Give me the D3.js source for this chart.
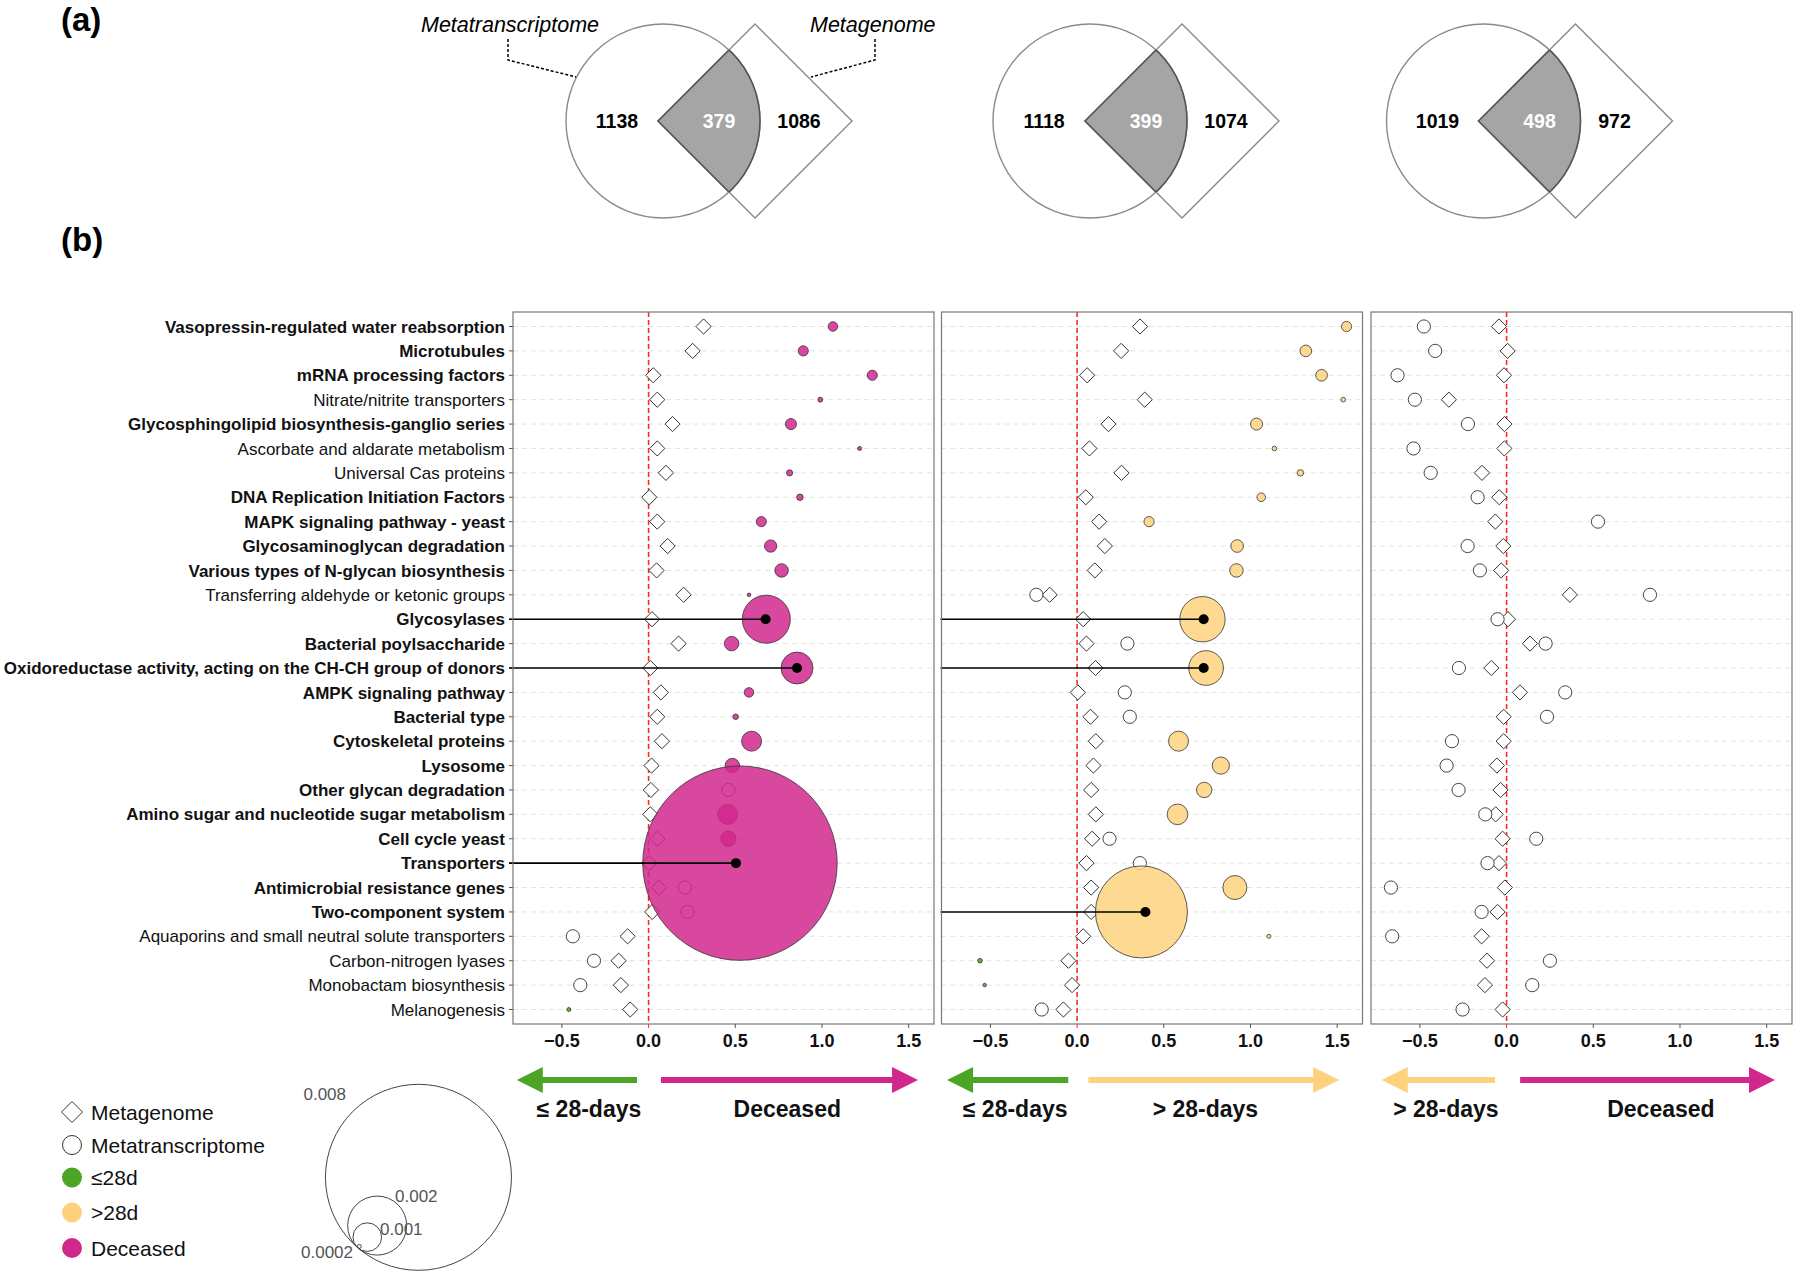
<!DOCTYPE html>
<html><head><meta charset="utf-8">
<script src="https://cdn.jsdelivr.net/npm/d3@7"></script>
<style>body{margin:0;background:#fff} svg{display:block;font-family:"Liberation Sans",Arial,Helvetica,sans-serif}</style>
</head><body>
<svg id="chart" width="1800" height="1277"></svg>
<script>
// ---------------- DATA ----------------
const pathways = [
 "Vasopressin-regulated water reabsorption","Microtubules","mRNA processing factors","Nitrate/nitrite transporters",
 "Glycosphingolipid biosynthesis-ganglio series","Ascorbate and aldarate metabolism","Universal Cas proteins",
 "DNA Replication Initiation Factors","MAPK signaling pathway - yeast","Glycosaminoglycan degradation",
 "Various types of N-glycan biosynthesis","Transferring aldehyde or ketonic groups","Glycosylases",
 "Bacterial poylsaccharide","Oxidoreductase activity, acting on the CH-CH group of donors","AMPK signaling pathway",
 "Bacterial type","Cytoskeletal proteins","Lysosome","Other glycan degradation","Amino sugar and nucleotide sugar metabolism",
 "Cell cycle yeast","Transporters","Antimicrobial resistance genes","Two-component system",
 "Aquaporins and small neutral solute transporters","Carbon-nitrogen lyases","Monobactam biosynthesis","Melanogenesis"];
const boldRows = [1,1,1,0,1,0,0,1,1,1,1,0,1,1,1,1,1,1,1,1,1,1,1,1,1,0,0,0,0];

// Venn counts
const vennMetatranscriptome = [1138, 1118, 1019];
const vennShared = [379, 399, 498];
const vennMetagenome = [1086, 1074, 972];
const vennSetLabels = ["Metatranscriptome", "Metagenome"];

// Panel 1: ≤28-days vs Deceased
const mg1 = [0.317,0.254,0.027,0.05,0.138,0.05,0.10,0.004,0.05,0.11,0.046,0.202,0.02,0.173,0.01,0.071,0.05,0.077,0.017,0.013,0.01,0.052,0.004,0.06,0.021,-0.121,-0.173,-0.16,-0.106];
const mt1 = [1.063,0.892,1.29,0.99,0.821,1.217,0.813,0.873,0.65,0.704,0.767,0.579,0.679,0.479,0.856,0.579,0.502,0.594,0.483,0.46,0.456,0.46,0.527,0.21,0.225,-0.437,-0.315,-0.394,-0.46];
const sz1 = [0.00038,0.0004,0.0004,0.00023,0.00043,0.0002,0.00027,0.00028,0.0004,0.00047,0.00051,0.00017,0.00164,0.00054,0.00111,0.00038,0.00025,0.00072,0.00054,null,0.00072,0.00057,0.0084,null,null,null,null,null,0.0002];
const grp1 = ["Deceased","Deceased","Deceased","Deceased","Deceased","Deceased","Deceased","Deceased","Deceased","Deceased","Deceased","Deceased","Deceased","Deceased","Deceased","Deceased","Deceased","Deceased","Deceased",null,"Deceased","Deceased","Deceased",null,null,null,null,null,"≤28d"];
const hlRows1 = [12, 14, 22];
const hlX1 = [0.675, 0.856, 0.504];

// Panel 2: ≤28-days vs >28-days
const mg2 = [0.363,0.254,0.058,0.39,0.181,0.071,0.256,0.05,0.127,0.16,0.102,-0.158,0.035,0.054,0.106,0.004,0.077,0.108,0.094,0.081,0.108,0.087,0.054,0.081,0.081,0.035,-0.05,-0.029,-0.079];
const mt2 = [1.554,1.319,1.41,1.535,1.035,1.138,1.288,1.062,0.415,0.923,0.919,-0.235,0.723,0.29,0.744,0.275,0.304,0.585,0.829,0.733,0.579,0.187,0.362,0.91,0.371,1.106,-0.56,-0.533,-0.204];
const sz2 = [0.0004,0.00045,0.00045,0.00022,0.00046,0.00022,0.00028,0.00035,0.0004,0.00048,0.00051,null,0.00155,null,0.0012,null,null,0.00072,0.00063,0.00057,0.00074,null,null,0.00085,0.00356,0.0002,0.00022,0.00017,null];
const grp2 = [">28d",">28d",">28d",">28d",">28d",">28d",">28d",">28d",">28d",">28d",">28d",null,">28d",null,">28d",null,null,">28d",">28d",">28d",">28d",null,null,">28d",">28d",">28d","≤28d","≤28d",null];
const hlRows2 = [12, 14, 24];
const hlX2 = [0.73, 0.73, 0.394];

// Panel 3: >28-days vs Deceased
const mg3 = [-0.044,0.006,-0.015,-0.333,-0.012,-0.013,-0.142,-0.042,-0.065,-0.019,-0.031,0.365,0.008,0.135,-0.088,0.077,-0.017,-0.017,-0.056,-0.035,-0.063,-0.023,-0.044,-0.01,-0.052,-0.144,-0.113,-0.125,-0.023];
const mt3 = [-0.477,-0.412,-0.629,-0.529,-0.223,-0.537,-0.438,-0.167,0.527,-0.225,-0.154,0.827,-0.052,0.225,-0.275,0.338,0.233,-0.315,-0.346,-0.277,-0.123,0.171,-0.11,-0.667,-0.144,-0.66,0.25,0.148,-0.254];
const sz3 = mt3.map(() => null);
const grp3 = mt3.map(() => null);
const hlRows3 = [];
const hlX3 = [];

const xTicks = [-0.5, 0, 0.5, 1.0, 1.5];
const xTickLabels = ["\u22120.5", "0.0", "0.5", "1.0", "1.5"];
const sizeLegendValues = [0.008, 0.002, 0.001, 0.0002];
const sizeLegendLabels = ["0.008", "0.002", "0.001", "0.0002"];
const groups = ["≤28d", ">28d", "Deceased"];
const shapeLegendLabels = ["Metagenome", "Metatranscriptome"];
const arrowLabels = [["\u2264 28-days", "Deceased"], ["\u2264 28-days", "> 28-days"], ["> 28-days", "Deceased"]];
const arrowGroups = [["≤28d", "Deceased"], ["≤28d", ">28d"], [">28d", "Deceased"]];

// ---------------- STYLE / LAYOUT ----------------
const groupColor = d3.scaleOrdinal().domain(groups).range(["#4ca524", "#fdd27f", "#d1288e"]);
const svg = d3.select("#chart");
svg.append("rect").attr("width", 1800).attr("height", 1277).attr("fill", "#fff");

const panelLefts = [513, 941.5, 1371];
const panelW = 421, panelTop = 312, panelBottom = 1024;
const x = d3.scaleLinear().domain([-0.782, 1.646]).range([0, panelW]);
const y = d3.scalePoint().domain(d3.range(pathways.length)).range([326.5, 1009.5]);
const rScale = d3.scaleLinear().domain([0, 0.0002, 0.001, 0.002, 0.008, 0.01]).range([0.5, 2, 14.3, 29.5, 93, 114]);

// panel labels
svg.append("text").attr("x", 61).attr("y", 31).attr("font-size", 33).attr("font-weight", "bold").text("(a)");
svg.append("text").attr("x", 61).attr("y", 251).attr("font-size", 33).attr("font-weight", "bold").text("(b)");

// ---------------- VENN ----------------
const vennCx = [663, 1090, 1483.5];
const vennRightOff = [136, 136, 131];
const vcy = 121, vr = 97, vdx = 92, vd = 97;
const defs = svg.append("defs");
vennCx.forEach((c, i) => {
  const dc = c + vdx;
  const diamondPath = `M${dc - vd},${vcy} L${dc},${vcy - vd} L${dc + vd},${vcy} L${dc},${vcy + vd} Z`;
  defs.append("clipPath").attr("id", "cd" + i).append("path").attr("d", diamondPath);
  defs.append("clipPath").attr("id", "cc" + i).append("circle").attr("cx", c).attr("cy", vcy).attr("r", vr);
  const g = svg.append("g");
  g.append("circle").attr("cx", c).attr("cy", vcy).attr("r", vr).attr("fill", "none").attr("stroke", "#8a8a8a").attr("stroke-width", 1.4);
  g.append("path").attr("d", diamondPath).attr("fill", "none").attr("stroke", "#8a8a8a").attr("stroke-width", 1.4);
  g.append("g").attr("clip-path", `url(#cd${i})`).append("circle").attr("cx", c).attr("cy", vcy).attr("r", vr).attr("fill", "#a5a5a5");
  g.append("g").attr("clip-path", `url(#cd${i})`).append("circle").attr("cx", c).attr("cy", vcy).attr("r", vr).attr("fill", "none").attr("stroke", "#555").attr("stroke-width", 1.6);
  g.append("g").attr("clip-path", `url(#cc${i})`).append("path").attr("d", diamondPath).attr("fill", "none").attr("stroke", "#555").attr("stroke-width", 1.6);
  const nums = [[vennMetatranscriptome[i], c - 46, "#000"], [vennShared[i], c + 56, "#fff"], [vennMetagenome[i], c + vennRightOff[i], "#000"]];
  nums.forEach(n => {
    g.append("text").attr("x", n[1]).attr("y", vcy + 7).attr("text-anchor", "middle").attr("font-size", 19.5)
      .attr("font-weight", "bold").attr("fill", n[2]).text(n[0]);
  });
});
// set labels (first venn only)
svg.append("text").attr("x", 421).attr("y", 32).attr("font-size", 21.5).attr("font-style", "italic").text(vennSetLabels[0]);
svg.append("text").attr("x", 810).attr("y", 32).attr("font-size", 21.5).attr("font-style", "italic").text(vennSetLabels[1]);
svg.append("path").attr("d", "M508,39 L508,60 L576,77").attr("fill", "none").attr("stroke", "#000").attr("stroke-width", 1.5).attr("stroke-dasharray", "3,2");
svg.append("path").attr("d", "M875,39 L875,60 L811,77").attr("fill", "none").attr("stroke", "#000").attr("stroke-width", 1.5).attr("stroke-dasharray", "3,2");

// ---------------- ROW LABELS ----------------
const labG = svg.append("g");
pathways.forEach((p, i) => {
  labG.append("text").attr("x", 505).attr("y", y(i)).attr("dy", "0.36em").attr("text-anchor", "end")
    .attr("font-size", 17).attr("font-weight", boldRows[i] ? "bold" : "normal").attr("fill", "#111").text(p);
  labG.append("line").attr("x1", 509).attr("x2", 513).attr("y1", y(i)).attr("y2", y(i)).attr("stroke", "#555").attr("stroke-width", 1);
});

// ---------------- PANELS ----------------
const panels = [
  {mg: mg1, mt: mt1, sz: sz1, grp: grp1, hl: hlRows1, hx: hlX1},
  {mg: mg2, mt: mt2, sz: sz2, grp: grp2, hl: hlRows2, hx: hlX2},
  {mg: mg3, mt: mt3, sz: sz3, grp: grp3, hl: hlRows3, hx: hlX3}
];
const arrowLeftTip = [-0.76, -0.75, -0.72], arrowLeftTail = [-0.067, -0.051, -0.066];
const arrowRightStart = [0.071, 0.065, 0.078], arrowRightTip = [1.554, 1.511, 1.548];
const arrowLabelX = [[-0.344, 0.80], [-0.357, 0.74], [-0.35, 0.89]];

panels.forEach((P, pi) => {
  const g = svg.append("g").attr("transform", `translate(${panelLefts[pi]},0)`);
  // grid
  pathways.forEach((p, i) => {
    g.append("line").attr("x1", 0).attr("x2", panelW).attr("y1", y(i)).attr("y2", y(i))
      .attr("stroke", "#e3e3e3").attr("stroke-width", 1).attr("stroke-dasharray", "5,4");
  });
  // zero line
  g.append("line").attr("x1", x(0)).attr("x2", x(0)).attr("y1", panelTop).attr("y2", panelBottom)
    .attr("stroke", "#ff2a2a").attr("stroke-width", 1.6).attr("stroke-dasharray", "5,3");
  // diamonds (metagenome)
  P.mg.forEach((v, i) => {
    const cx = x(v), cy = y(i), h = 7.6;
    g.append("path").attr("d", `M${cx - h},${cy} L${cx},${cy - h} L${cx + h},${cy} L${cx},${cy + h} Z`)
      .attr("fill", "#fff").attr("stroke", "#333").attr("stroke-width", 1);
  });
  // open circles (non-significant metatranscriptome)
  P.mt.forEach((v, i) => {
    if (P.sz[i] !== null) return;
    g.append("circle").attr("cx", x(v)).attr("cy", y(i)).attr("r", 6.6)
      .attr("fill", "#fff").attr("stroke", "#444").attr("stroke-width", 1);
  });
  // filled circles
  P.mt.forEach((v, i) => {
    if (P.sz[i] === null) return;
    g.append("circle").attr("cx", x(v)).attr("cy", y(i)).attr("r", rScale(P.sz[i]))
      .attr("fill", groupColor(P.grp[i])).attr("fill-opacity", 0.85).attr("stroke", "#333").attr("stroke-width", 0.8);
  });
  // highlight segments
  P.hl.forEach((row, k) => {
    g.append("line").attr("x1", pi === 0 ? -4 : -1).attr("x2", x(P.hx[k])).attr("y1", y(row)).attr("y2", y(row))
      .attr("stroke", "#000").attr("stroke-width", 1.6);
    g.append("circle").attr("cx", x(P.hx[k])).attr("cy", y(row)).attr("r", 5).attr("fill", "#000");
  });
  // border
  g.append("rect").attr("x", 0).attr("y", panelTop).attr("width", panelW).attr("height", panelBottom - panelTop)
    .attr("fill", "none").attr("stroke", "#777").attr("stroke-width", 1.2);
  // x axis
  xTicks.forEach((t, k) => {
    g.append("line").attr("x1", x(t)).attr("x2", x(t)).attr("y1", panelBottom).attr("y2", panelBottom + 4)
      .attr("stroke", t === 0 ? "#ff2a2a" : "#555").attr("stroke-width", 1);
    g.append("text").attr("x", x(t)).attr("y", 1047).attr("text-anchor", "middle").attr("font-size", 18)
      .attr("font-weight", "bold").attr("fill", "#111").text(xTickLabels[k]);
  });
  // direction arrows
  const ay = 1080, shaft = 6, headL = 26, headH = 13;
  const lt = x(arrowLeftTip[pi]), ltail = x(arrowLeftTail[pi]);
  g.append("path").attr("d", `M${ltail},${ay - shaft / 2} L${lt + headL},${ay - shaft / 2} L${lt + headL},${ay - headH} L${lt},${ay} L${lt + headL},${ay + headH} L${lt + headL},${ay + shaft / 2} L${ltail},${ay + shaft / 2} Z`)
    .attr("fill", groupColor(arrowGroups[pi][0]));
  const rs = x(arrowRightStart[pi]), rt = x(arrowRightTip[pi]);
  g.append("path").attr("d", `M${rs},${ay - shaft / 2} L${rt - headL},${ay - shaft / 2} L${rt - headL},${ay - headH} L${rt},${ay} L${rt - headL},${ay + headH} L${rt - headL},${ay + shaft / 2} L${rs},${ay + shaft / 2} Z`)
    .attr("fill", groupColor(arrowGroups[pi][1]));
  g.append("text").attr("x", x(arrowLabelX[pi][0])).attr("y", 1117).attr("text-anchor", "middle").attr("font-size", 23)
    .attr("font-weight", "bold").attr("fill", "#111").text(arrowLabels[pi][0]);
  g.append("text").attr("x", x(arrowLabelX[pi][1])).attr("y", 1117).attr("text-anchor", "middle").attr("font-size", 23)
    .attr("font-weight", "bold").attr("fill", "#111").text(arrowLabels[pi][1]);
});

// ---------------- LEGEND ----------------
const legY = [1112, 1145, 1177.5, 1212.5, 1248];
const lg = svg.append("g");
lg.append("path").attr("d", `M${72 - 10.5},${legY[0]} L72,${legY[0] - 10.5} L${72 + 10.5},${legY[0]} L72,${legY[0] + 10.5} Z`)
  .attr("fill", "#fff").attr("stroke", "#333").attr("stroke-width", 1);
lg.append("circle").attr("cx", 72).attr("cy", legY[1]).attr("r", 9.5).attr("fill", "#fff").attr("stroke", "#333").attr("stroke-width", 1);
groups.forEach((gname, k) => {
  lg.append("circle").attr("cx", 72).attr("cy", legY[2 + k]).attr("r", 10).attr("fill", groupColor(gname));
});
const legTexts = shapeLegendLabels.concat(groups);
legTexts.forEach((t, k) => {
  lg.append("text").attr("x", 91).attr("y", legY[k] + 7.5).attr("font-size", 21).attr("fill", "#111").text(t);
});
// size legend (nested, tangent at lower-left)
const T = [358, 1248], dir = [-0.65, 0.76];
sizeLegendValues.forEach((v, k) => {
  const r = rScale(v);
  lg.append("circle").attr("cx", T[0] - r * dir[0]).attr("cy", T[1] - r * dir[1]).attr("r", r)
    .attr("fill", "none").attr("stroke", "#444").attr("stroke-width", 1);
});
const sizeLabPos = [[346, 1100, "end"], [395, 1202, "start"], [380, 1235, "start"], [353, 1258, "end"]];
sizeLegendLabels.forEach((t, k) => {
  lg.append("text").attr("x", sizeLabPos[k][0]).attr("y", sizeLabPos[k][1]).attr("text-anchor", sizeLabPos[k][2])
    .attr("font-size", 17).attr("fill", "#555").text(t);
});
</script>
</body></html>
